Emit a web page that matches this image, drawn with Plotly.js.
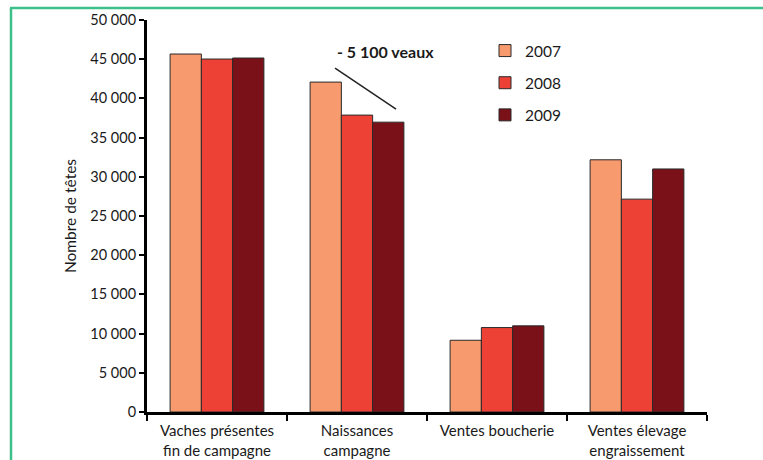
<!DOCTYPE html>
<html>
<head>
<meta charset="utf-8">
<script src="https://cdn.plot.ly/plotly-3.0.1.min.js"></script>
<style>
  html, body { margin: 0; padding: 0; background: #fff; }
  #chart { width: 763px; height: 460px; }
</style>
</head>
<body>
<div id="chart"></div>
<script>
const categories = [
  "Vaches présentes<br>fin de campagne",
  "Naissances<br>campagne",
  "Ventes boucherie",
  "Ventes élevage<br>engraissement"
];
const years = ["2007", "2008", "2009"];
const values2007 = [45660, 42080, 9150, 32170];
const values2008 = [45020, 37870, 10770, 27150];
const values2009 = [45150, 36970, 10990, 31000];
const colors = ["#F79A6E", "#EE4136", "#7A1119"];
const yTicks = [0, 5000, 10000, 15000, 20000, 25000, 30000, 35000, 40000, 45000, 50000];
const yTickLabels = ["0", "5 000", "10 000", "15 000", "20 000", "25 000", "30 000", "35 000", "40 000", "45 000", "50 000"];
const annotationText = "- 5 100 veaux";

const W = 763, H = 460;
const M = { l: 147, r: 56, t: 20, b: 48 };
const pw = W - M.l - M.r, ph = H - M.t - M.b;
const px = x => (x - M.l) / pw;
const py = y => (H - M.b - y) / ph;

const series = [values2007, values2008, values2009];
const traces = series.map((vals, i) => ({
  type: "bar",
  name: years[i],
  x: categories,
  y: vals,
  legendgroup: years[i],
  marker: { color: colors[i], line: { color: "#2a2a2a", width: 1 } },
  hoverinfo: "y+name"
}));

const FONT = "Lato, 'Open Sans', sans-serif";

const layout = {
  width: W, height: H,
  margin: M,
  paper_bgcolor: "#fff",
  plot_bgcolor: "#fff",
  barmode: "group",
  bargap: 0.33,
  bargroupgap: 0,
  font: { family: FONT, size: 14, color: "#1a1a1a" },
  showlegend: true,
  legend: {
    x: px(485), y: py(34), xanchor: "left", yanchor: "top",
    bgcolor: "rgba(0,0,0,0)",
    font: { family: FONT, size: 15.5, color: "#1a1a1a" },
    tracegroupgap: 9,
    traceorder: "grouped"
  },
  xaxis: {
    type: "category",
    range: [-0.5, 3.5],
    showline: true, linecolor: "#000", linewidth: 3,
    ticks: "outside", tickson: "boundaries", ticklen: 6, tickwidth: 2, tickcolor: "#000",
    showgrid: false, zeroline: false,
    tickfont: { family: FONT, size: 15, color: "#1a1a1a" },
    ticklabelstandoff: 3,
    fixedrange: true
  },
  yaxis: {
    range: [0, 50000],
    tickvals: yTicks, ticktext: yTickLabels,
    showline: true, linecolor: "#000", linewidth: 3,
    ticks: "outside", ticklen: 5, tickwidth: 2, tickcolor: "#000",
    showgrid: false, zeroline: false,
    tickfont: { family: FONT, size: 14.5, color: "#1a1a1a" },
    title: { text: "Nombre de têtes", font: { family: FONT, size: 15.5, color: "#1a1a1a" }, standoff: 10 },
    fixedrange: true
  },
  annotations: [{
    xref: "x", yref: "y",
    x: 1.207, y: 46000,
    text: "<b>" + annotationText + "</b>",
    showarrow: false,
    font: { family: FONT, size: 16, color: "#1a1a1a" }
  }],
  shapes: [
    { type: "line", xref: "x", yref: "y", x0: 0.843, y0: 43870, x1: 1.279, y1: 38640,
      line: { color: "#222", width: 1.5 } },
    { type: "line", xref: "paper", yref: "paper", x0: px(10), y0: py(8), x1: px(763), y1: py(8),
      line: { color: "#3DBF8A", width: 2.5 } },
    { type: "line", xref: "paper", yref: "paper", x0: px(11), y0: py(8), x1: px(11), y1: py(460),
      line: { color: "#3DBF8A", width: 2.5 } }
  ]
};

Plotly.newPlot("chart", traces, layout, { displayModeBar: false, staticPlot: true });
</script>
</body>
</html>
